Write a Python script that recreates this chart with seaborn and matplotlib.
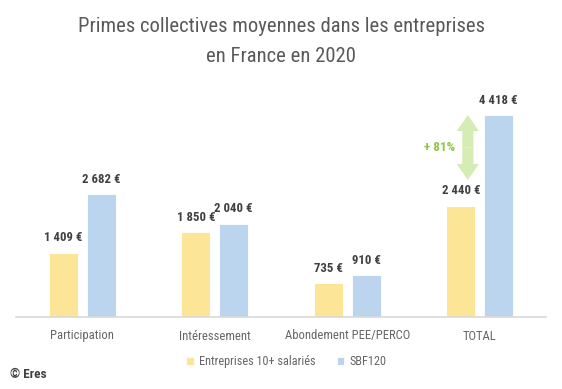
import pandas as pd
import matplotlib
matplotlib.use("Agg")
import matplotlib.pyplot as plt
from matplotlib import font_manager
import seaborn as sns

# data
categories = ["Participation", "Intéressement", "Abondement PEE/PERCO", "TOTAL"]
series_names = ["Entreprises 10+ salariés", "SBF120"]
values_pme = [1409, 1850, 735, 2440]
values_sbf = [2682, 2040, 910, 4418]
growth_label = "+ 81%"
title_lines = ["Primes collectives moyennes dans les entreprises", "en France en 2020"]

colors = ["#fce597", "#bcd5ef"]

df = pd.DataFrame({
    "categorie": categories * 2,
    "serie": [series_names[0]] * 4 + [series_names[1]] * 4,
    "prime": values_pme + values_sbf,
})

sns.set_style("white")
installed = {f.name for f in font_manager.fontManager.ttflist}
family = next((f for f in ["Roboto Condensed", "Barlow Semi Condensed", "Archivo Narrow",
                           "Liberation Sans Narrow", "Roboto"] if f in installed), "DejaVu Sans")
plt.rcParams["font.family"] = [family, "DejaVu Sans"]

fig = plt.figure(figsize=(5.62, 3.89), dpi=100)
ax = fig.add_axes([16 / 562, 1 - 317 / 389, 530 / 562, 217 / 389])

sns.barplot(data=df, x="categorie", y="prime", hue="serie", order=categories,
            hue_order=series_names, palette=colors, width=0.572, gap=0.24,
            edgecolor="#ffffff", linewidth=0.6, saturation=1, ax=ax)

ax.set_ylim(0, 4750)
ax.set_xlim(-0.5, 3.5)
for s in ["top", "right", "left"]:
    ax.spines[s].set_visible(False)
ax.spines["bottom"].set_color("#d9d9d9")
ax.spines["bottom"].set_linewidth(1.2)
ax.set_yticks([])
ax.set_xlabel("")
ax.set_ylabel("")
ax.tick_params(axis="x", length=0, pad=9, labelsize=9.1, labelcolor="#666666")

for cont in ax.containers:
    labels = [f"{int(v):,}".replace(",", " ") + " €" for v in cont.datavalues]
    ax.bar_label(cont, labels=labels, padding=6, fontsize=9.2, fontweight="bold",
                 color="#404040")

# double arrow showing the gap on TOTAL
arrow_x, arrow_low, arrow_high = 2.91, 3000, 4420
arrow_mid = (arrow_low + arrow_high) / 2
arrow_style = "simple,head_width=1.6,head_length=1.15,tail_width=0.8"
for end in (arrow_high, arrow_low):
    ax.annotate("", xy=(arrow_x, end), xytext=(arrow_x, arrow_mid),
                arrowprops=dict(arrowstyle=arrow_style, mutation_scale=10, lw=0,
                                color="#d5ecb4", shrinkA=0, shrinkB=0))
ax.text(2.70, 3720, growth_label, ha="center", va="center", fontsize=9.5,
        fontweight="bold", color="#8dc63f")

leg = ax.legend(loc="upper center", bbox_to_anchor=(0.51, -0.125), ncol=2, frameon=False,
                fontsize=8.8, handlelength=0.6, handleheight=0.6, columnspacing=1.7,
                handletextpad=0.45)
for t in leg.get_texts():
    t.set_color("#666666")

for line, y in zip(title_lines, [0.931, 0.856]):
    fig.text(0.5, y, line, ha="center", va="center", fontsize=14.9, color="#595959")
fig.text(0.018, 0.038, "© Eres", ha="left", va="center", fontsize=9.5,
         fontweight="bold", color="#404040")

fig.savefig("out.png", dpi=100)
